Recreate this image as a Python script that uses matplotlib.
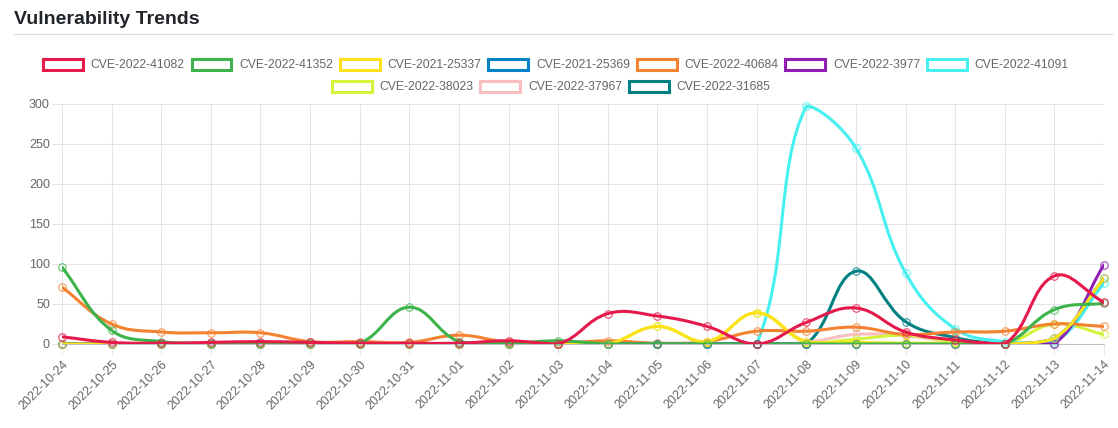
import numpy as np
import matplotlib
matplotlib.use('Agg')
import matplotlib.pyplot as plt
from matplotlib.path import Path
from matplotlib.patches import PathPatch, Patch
from matplotlib.lines import Line2D

plt.rcParams['font.family'] = ['Liberation Sans', 'DejaVu Sans']


# Datos (None = sin dato)

dates = ['2022-10-24', '2022-10-25', '2022-10-26', '2022-10-27', '2022-10-28',
         '2022-10-29', '2022-10-30', '2022-10-31', '2022-11-01', '2022-11-02',
         '2022-11-03', '2022-11-04', '2022-11-05', '2022-11-06', '2022-11-07',
         '2022-11-08', '2022-11-09', '2022-11-10', '2022-11-11', '2022-11-12',
         '2022-11-13', '2022-11-14']

names = ['CVE-2022-41082', 'CVE-2022-41352', 'CVE-2021-25337', 'CVE-2021-25369',
         'CVE-2022-40684', 'CVE-2022-3977', 'CVE-2022-41091', 'CVE-2022-38023',
         'CVE-2022-37967', 'CVE-2022-31685']

colors = ['#e6194b', '#3cb44b', '#ffe119', '#0082c8', '#f58231',
          '#911eb4', '#46f0f0', '#d2f53c', '#fabebe', '#008080']

cve_41082 = [9, 2, 1, 2, 3, 2, 1, 1, 1, 4, 0, 38, 35, 22, 0, 27, 45, 15, 5, 0, 85, 52]
cve_41352 = [96, 17, 3, 1, 1, 1, 1, 46, 3, 1, 4, 0, 0, 0, 0, 0, 0, 0, 0, 0, 43, 51]
cve_25337 = [0, 0, 0, 0, 0, 0, 0, 0, 0, 0, 0, 0, 22, 3, 39, 3, 2, 1, 1, 0, 7, 82]
cve_25369 = [0, 0, 0, 0, 0, 0, 0, 0, 0, 0, 0, 0, 0, 0, 0, 0, 0, 0, 0, 0, 7, 82]
cve_40684 = [71, 25, 15, 14, 14, 3, 3, 2, 11, 2, 1, 4, 1, 3, 16, 16, 21, 12, 15, 16, 25, 22]
cve_3977 = [0, 0, 0, 0, 0, 0, 0, 0, 0, 0, 0, 0, 0, 0, 0, 0, 0, 0, 0, 0, 0, 99]
cve_41091 = [0, 0, 0, 0, 0, 0, 0, 0, 0, 0, 0, 0, 0, 0, 0, 297, 245, 89, 19, 3, 2, 76]
cve_38023 = [0, 0, 0, 0, 0, 0, 0, 0, 0, 0, 0, 0, 22, 3, 39, 2, 6, 11, 3, 0, 25, 12]
cve_37967 = [0, 0, 0, 0, 0, 0, 0, 0, 0, 0, 0, 0, 0, 0, 0, 2, 12, 10, 3, 0, 0, None]
cve_31685 = [0, 0, 0, 0, 0, 0, 0, 0, 0, 0, 0, 0, 0, 0, 0, 0, 91, 28, 8, 0, 0, None]

series = [cve_41082, cve_41352, cve_25337, cve_25369, cve_40684,
          cve_3977, cve_41091, cve_38023, cve_37967, cve_31685]


W, H = 1118, 428
L, R, T, B = 62, 1104, 104, 344
ymax = 300
tension = 0.4
grey = '#666666'
gridc = '#e5e5e5'
ndays = len(dates)


def spline_path(vals):
    # curva tipo Chart.js (tension 0.4), calculada en pixeles
    n = len(vals)
    sx = (R - L) / (ndays - 1)
    sy = (B - T) / ymax
    p = np.column_stack([np.arange(n) * sx, np.array(vals, float) * sy])
    cprev = p.copy()
    cnext = p.copy()
    for i in range(n):
        a = p[max(i - 1, 0)]
        b = p[i]
        c = p[min(i + 1, n - 1)]
        d01 = np.hypot(*(b - a))
        d12 = np.hypot(*(c - b))
        s = d01 + d12
        s01 = d01 / s if s > 0 else 0
        s12 = d12 / s if s > 0 else 0
        cprev[i] = b - tension * s01 * (c - a)
        cnext[i] = b + tension * s12 * (c - a)
    for cp in (cprev, cnext):
        cp[:, 0] = np.clip(cp[:, 0], 0, (ndays - 1) * sx)
        cp[:, 1] = np.clip(cp[:, 1], 0, ymax * sy)
    verts = [p[0]]
    codes = [Path.MOVETO]
    for i in range(n - 1):
        verts += [cnext[i], cprev[i + 1], p[i + 1]]
        codes += [Path.CURVE4] * 3
    verts = np.array(verts)
    verts[:, 0] /= sx
    verts[:, 1] /= sy
    return Path(verts, codes)


fig = plt.figure(figsize=(W / 100, H / 100), dpi=100)

ax = fig.add_axes([L / W, (H - B) / H, (R - L) / W, (B - T) / H])

for k, (vals, c) in enumerate(zip(series, colors)):
    z = 20 - k
    v = [a for a in vals if a is not None]
    x = np.arange(len(v))
    ax.add_patch(PathPatch(spline_path(v), facecolor='none', edgecolor=c,
                           lw=2.2, zorder=z, capstyle='round', joinstyle='round'))
    ax.plot(x, v, linestyle='none', marker='o', ms=5.4, mfc='none',
            mec=c, mew=0.8, alpha=0.8, zorder=z, clip_on=False)

ax.set_xlim(0, ndays - 1)
ax.set_ylim(0, ymax)
ax.set_yticks(np.arange(0, 301, 50))
ax.set_xticks(np.arange(ndays))
ax.set_xticklabels(dates, rotation=45, ha='right', rotation_mode='anchor')

ax.grid(True, color=gridc, lw=0.75, zorder=0)
ax.set_axisbelow(True)
ax.tick_params(axis='both', length=7.2, width=0.75, color=gridc,
               labelcolor=grey, labelsize=9)
ax.tick_params(axis='x', pad=3)
ax.tick_params(axis='y', pad=1.5)

for s in ['top', 'right']:
    ax.spines[s].set_visible(False)
ax.spines['left'].set_color(gridc)
ax.spines['left'].set_linewidth(0.75)
ax.spines['bottom'].set_color('#bfbfbf')
ax.spines['bottom'].set_linewidth(0.75)


# Leyenda en dos filas centradas

handles = [Patch(facecolor='white', edgecolor=c, linewidth=2.2) for c in colors]

kw = dict(frameon=False, fontsize=8.7, labelcolor=grey, handlelength=3.3,
          handleheight=1.0, handletextpad=0.66, columnspacing=0.55,
          loc='center', borderpad=0)

leg1 = fig.legend(handles[:7], names[:7], ncol=7,
                  bbox_to_anchor=(556 / W, 1 - 65 / H), **kw)
leg2 = fig.legend(handles[7:], names[7:], ncol=3,
                  bbox_to_anchor=(551 / W, 1 - 87 / H), **kw)


# Titulo y linea

fig.text(14 / W, 1 - 19 / H, 'Vulnerability Trends', fontsize=14,
         fontweight='bold', color='#212529', va='center', ha='left')

fig.add_artist(Line2D([14 / W, 1112 / W], [1 - 34 / H] * 2,
                      color='#dddddd', lw=1))

fig.savefig('out.png', dpi=100)
